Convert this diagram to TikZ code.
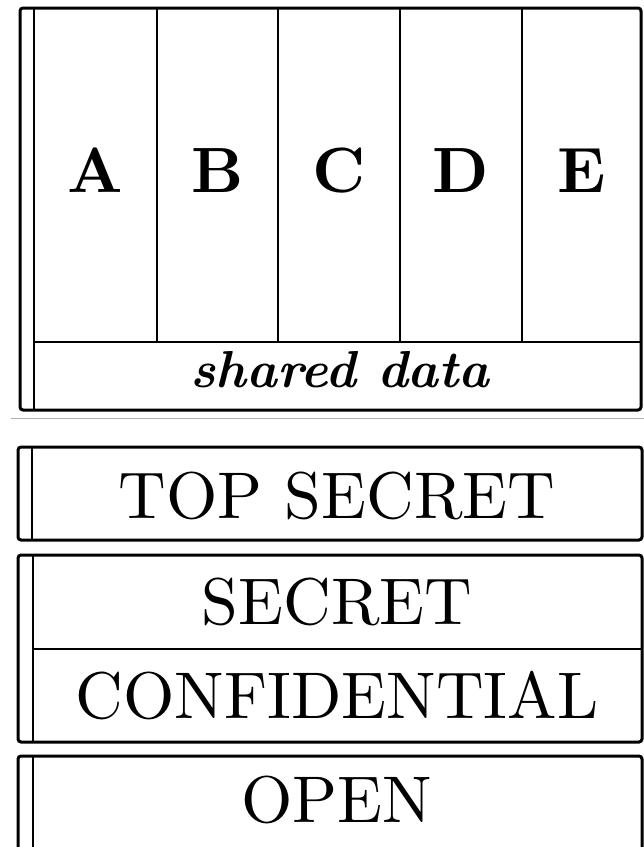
\documentclass[tikz,border=0pt]{standalone}
\usepackage{fontspec}
\newfontfamily\tenrm{lmroman10-regular.otf}[BoldFont=lmroman10-bold.otf,ItalicFont=lmroman10-italic.otf,BoldItalicFont=lmroman10-bolditalic.otf]
\begin{document}
\begin{tikzpicture}[x=1pt,y=-1pt,
  outerframe/.style={draw=black,line width=3pt,rounded corners=3pt},
  innerline/.style={draw=black,line width=2.5pt},
  colletter/.style={anchor=base,inner sep=0pt,font=\tenrm\fontsize{64}{70}\selectfont\bfseries},
  leveltext/.style={anchor=base,inner sep=0pt,font=\tenrm\fontsize{66}{75}\selectfont},
  sharedtext/.style={anchor=base,inner sep=0pt,font=\tenrm\fontsize{52}{60}\selectfont\bfseries\itshape}]
\useasboundingbox (0,0) rectangle (644,847);
\begin{scope}
\clip (0,0) rectangle (644,847);
% top compartment box
\draw[outerframe] (20,8) rectangle (641,410);
\draw[innerline] (34,8) -- (34,410);
\foreach \xx in {157,278,400,522} {\draw[innerline] (\xx,8) -- (\xx,342);}
\draw[innerline] (34,342) -- (641,342);
\node[colletter] (a) at (95.5,192) {A};
\node[colletter] (b) at (217.5,192) {B};
\node[colletter] (c) at (339,192) {C};
\node[colletter] (d) at (461,192) {D};
\node[colletter] (e) at (581.5,192) {E};
\node[sharedtext] (sh) at (340,387) {shared data};
% thin separator
\draw[black!30,line width=1pt] (11,418) -- (644,418);
% levels
\draw[outerframe] (18,447) rectangle (642,540);
\draw[innerline] (32,447) -- (32,540);
\node[leveltext] (ts) at (337,518) {TOP SECRET};
\draw[outerframe] (18,555) rectangle (642,742);
\draw[innerline] (33,555) -- (33,742);
\draw[innerline] (33,649) -- (642,649);
\node[leveltext] (se) at (337,624) {SECRET};
\node[leveltext] (co) at (337,718) {CONFIDENTIAL};
\draw[outerframe] (18,756) rectangle (642,870);
\draw[innerline] (33,756) -- (33,870);
\node[leveltext] (op) at (337,822) {OPEN};
\end{scope}
\end{tikzpicture}
\end{document}
